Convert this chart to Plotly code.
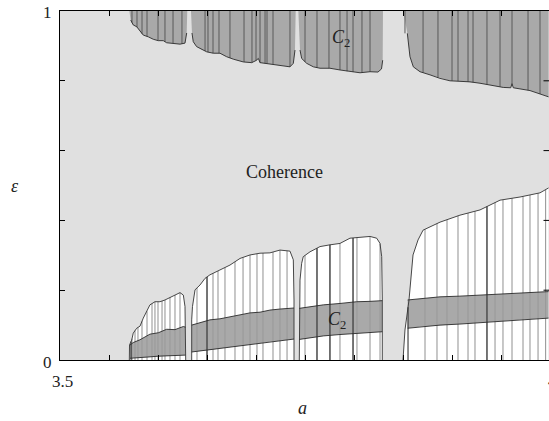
import numpy as np
import plotly.graph_objects as go

# ---------------- data ----------------
# Upper C2 region: lower edge of each piece hanging down from eps = 1
c2_up1_a = [3.5706, 3.5720, 3.5746, 3.5781, 3.5815, 3.5848, 3.5899, 3.5950, 3.6001, 3.6052, 3.6086, 3.6154, 3.6222, 3.6273, 3.6290, 3.6296]
c2_up1_e = [1.000, 0.974, 0.960, 0.955, 0.941, 0.931, 0.926, 0.919, 0.915, 0.915, 0.909, 0.908, 0.905, 0.908, 0.937, 1.000]
c2_up2_a = [3.6334, 3.6344, 3.6357, 3.6391, 3.6443, 3.6494, 3.6561, 3.6629, 3.6697, 3.6765, 3.6867, 3.6952, 3.6996, 3.7020, 3.7037, 3.7138, 3.7240, 3.7342, 3.7376, 3.7393, 3.7400]
c2_up2_e = [1.000, 0.937, 0.912, 0.898, 0.890, 0.883, 0.879, 0.879, 0.869, 0.862, 0.854, 0.852, 0.858, 0.864, 0.852, 0.848, 0.845, 0.840, 0.850, 0.888, 1.000]
c2_up3_a = [3.7427, 3.7444, 3.7461, 3.7512, 3.7580, 3.7648, 3.7749, 3.7851, 3.7953, 3.8055, 3.8157, 3.8238, 3.8274, 3.8286, 3.8289]
c2_up3_e = [1.000, 0.888, 0.864, 0.850, 0.840, 0.836, 0.836, 0.831, 0.826, 0.823, 0.826, 0.825, 0.834, 0.859, 1.000]
c2_up4_a = [3.8496, 3.8537, 3.8564, 3.8598, 3.8666, 3.8768, 3.8870, 3.8971, 3.9073, 3.9175, 3.9277, 3.9379, 3.9514, 3.9590, 3.9603, 3.9616, 3.9650, 3.9786, 3.9975, 3.9975]
c2_up4_e = [1.000, 0.936, 0.869, 0.840, 0.826, 0.817, 0.807, 0.800, 0.799, 0.797, 0.793, 0.788, 0.781, 0.780, 0.792, 0.780, 0.778, 0.772, 0.754, 1.000]

# Non-coherent (white) lobes rising from eps = 0
lobe1_a = [3.5706, 3.5708, 3.5730, 3.5746, 3.5781, 3.5815, 3.5848, 3.5883, 3.5916, 3.5967, 3.6018, 3.6069, 3.6120, 3.6171, 3.6222, 3.6256, 3.6273, 3.6280]
lobe1_e = [0.000, 0.043, 0.057, 0.077, 0.091, 0.097, 0.120, 0.138, 0.158, 0.167, 0.167, 0.172, 0.180, 0.186, 0.193, 0.186, 0.153, 0.000]
lobe2_a = [3.6341, 3.6341, 3.6349, 3.6375, 3.6426, 3.6477, 3.6527, 3.6629, 3.6731, 3.6833, 3.6935, 3.7037, 3.7138, 3.7240, 3.7342, 3.7376, 3.7383, 3.7383]
lobe2_e = [0.000, 0.115, 0.153, 0.201, 0.215, 0.234, 0.244, 0.258, 0.272, 0.291, 0.301, 0.306, 0.307, 0.315, 0.312, 0.287, 0.172, 0.000]
lobe3_a = [3.7437, 3.7437, 3.7444, 3.7461, 3.7477, 3.7546, 3.7648, 3.7749, 3.7851, 3.7953, 3.8055, 3.8157, 3.8225, 3.8259, 3.8276, 3.8282, 3.8282]
lobe3_e = [0.000, 0.115, 0.229, 0.277, 0.296, 0.310, 0.325, 0.330, 0.334, 0.349, 0.352, 0.354, 0.349, 0.334, 0.296, 0.172, 0.000]
lobe4_a = [3.8493, 3.8513, 3.8554, 3.8595, 3.8646, 3.8697, 3.8870, 3.9073, 3.9277, 3.9481, 3.9684, 3.9888, 3.9975, 3.9975]
lobe4_e = [0.000, 0.086, 0.172, 0.301, 0.344, 0.372, 0.395, 0.415, 0.430, 0.458, 0.467, 0.479, 0.493, 0.000]

# Lower C2 bands inside the lobes
band1_a = [3.5713, 3.5746, 3.5815, 3.5916, 3.6001, 3.6086, 3.6171, 3.6256, 3.6278]
band1_hi = [0.043, 0.050, 0.058, 0.074, 0.078, 0.088, 0.087, 0.096, 0.094]
band1_lo = [0.005, 0.006, 0.008, 0.009, 0.011, 0.012, 0.013, 0.014, 0.014]
band2_a = [3.6341, 3.6426, 3.6527, 3.6629, 3.6731, 3.6833, 3.6935, 3.7037, 3.7138, 3.7240, 3.7342, 3.7383]
band2_hi = [0.100, 0.106, 0.115, 0.118, 0.123, 0.130, 0.135, 0.137, 0.143, 0.146, 0.149, 0.149]
band2_lo = [0.023, 0.026, 0.029, 0.033, 0.037, 0.040, 0.043, 0.048, 0.052, 0.055, 0.058, 0.060]
band3_a = [3.7437, 3.7546, 3.7682, 3.7851, 3.8021, 3.8157, 3.8282]
band3_hi = [0.148, 0.152, 0.158, 0.162, 0.167, 0.168, 0.170]
band3_lo = [0.059, 0.064, 0.069, 0.073, 0.077, 0.079, 0.081]
band4_a = [3.8540, 3.8666, 3.8870, 3.9073, 3.9277, 3.9481, 3.9684, 3.9888, 3.9975]
band4_hi = [0.172, 0.176, 0.181, 0.183, 0.186, 0.188, 0.191, 0.194, 0.196]
band4_lo = [0.091, 0.095, 0.100, 0.103, 0.107, 0.111, 0.115, 0.118, 0.120]

# Periodic windows (vertical streaks)
windows_low = [3.5733, 3.5764, 3.5794, 3.5835, 3.5886, 3.5937, 3.5967, 3.5998, 3.6039, 3.6069, 3.6120, 3.6171, 3.6222,
               3.6395, 3.6497, 3.6558, 3.6609, 3.6680, 3.6782, 3.6864, 3.6935, 3.7006, 3.7067, 3.7169, 3.7240, 3.7312,
               3.7495, 3.7617, 3.7749, 3.7851, 3.7984, 3.8024, 3.8157, 3.8259,
               3.8717, 3.8839, 3.8941, 3.9053, 3.9155, 3.9226, 3.9348, 3.9430, 3.9511, 3.9603, 3.9715, 3.9786, 3.9868, 3.9945]
windows_low_dark = [3.5724, 3.6497, 3.7617, 3.7749, 3.7984, 3.8544, 3.9348]
windows_up = [3.5733, 3.5784, 3.5835, 3.5886, 3.5998, 3.6069, 3.6151, 3.6242,
              3.6477, 3.6507, 3.6558, 3.6619, 3.6731, 3.6874, 3.6955, 3.6996, 3.7037, 3.7088, 3.7108, 3.7169, 3.7342,
              3.7495, 3.7617, 3.7739, 3.7851, 3.7923, 3.7984, 3.8075, 3.8157,
              3.8513, 3.8697, 3.8849, 3.8992, 3.9053, 3.9155, 3.9206, 3.9348, 3.9481, 3.9603, 3.9766, 3.9888]

x_ticks = [3.55, 3.60, 3.65, 3.70, 3.75, 3.80, 3.85, 3.90, 3.95]
y_ticks = [0.2, 0.4, 0.6, 0.8]

# ---------------- styling ----------------
BG = "#e0e0e0"
DARK = "#a9a9a9"
EDGE = "#2a2a2a"
FONT = "Liberation Serif"

upper = [(c2_up1_a, c2_up1_e), (c2_up2_a, c2_up2_e), (c2_up3_a, c2_up3_e), (c2_up4_a, c2_up4_e)]
lobes = [(lobe1_a, lobe1_e), (lobe2_a, lobe2_e), (lobe3_a, lobe3_e), (lobe4_a, lobe4_e)]
bands = [(band1_a, band1_hi, band1_lo), (band2_a, band2_hi, band2_lo),
         (band3_a, band3_hi, band3_lo), (band4_a, band4_hi, band4_lo)]

W, H = 549, 421
L, R, T, B = 60, 0, 11, 61
x_end = 3.5 + 0.5 * (W - R - L) / 491.0   # the frame runs slightly past the window edge

fig = go.Figure()


def poly(x, y, fill):
    fig.add_trace(go.Scatter(x=x, y=y, mode="lines", fill="toself", fillcolor=fill,
                             line=dict(width=0, color=fill), hoverinfo="skip", showlegend=False))


def outline(x, y, width=0.9, color=EDGE):
    fig.add_trace(go.Scatter(x=x, y=y, mode="lines", line=dict(width=width, color=color),
                             hoverinfo="skip", showlegend=False))


def edge_at(a, pieces):
    for xs, ys in pieces:
        if xs[0] < a < xs[-1]:
            return float(np.interp(a, xs[1:-1], ys[1:-1]))
    return None


def streaks(positions, pieces, base, width, color):
    sx, sy = [], []
    for a in positions:
        e = edge_at(a, pieces)
        if e is not None:
            sx += [a, a, None]
            sy += [base, e, None]
    fig.add_trace(go.Scatter(x=sx, y=sy, mode="lines", line=dict(width=width, color=color),
                             hoverinfo="skip", showlegend=False))


# upper C2 pieces with their streaks
for xs, ys in upper:
    poly(xs, ys, DARK)
streaks(windows_up, upper, 1.0, 1, "#5a5a5a")
for xs, ys in upper:
    outline(xs[1:-1], ys[1:-1])

# white lobes, bands and their streaks
for xs, ys in lobes:
    poly(xs, ys, "white")
for xs, hi, lo in bands:
    poly(list(xs) + list(xs)[::-1], list(hi) + list(lo)[::-1], DARK)
streaks(windows_low, lobes, 0.0, 1.1, "#9a9a9a")
streaks(windows_low_dark, lobes, 0.0, 1.1, "#333333")

for xs, ys in lobes[:3]:
    outline(xs, ys, width=0.9, color="#333333")
outline(lobe4_a[:-1], lobe4_e[:-1], width=0.9, color="#333333")
for xs, hi, lo in bands:
    outline(xs, hi, width=0.9)
    outline(xs, lo, width=0.9)

# right-hand inner ticks
rx, ry = [], []
tick_w = 0.5 * 5.5 / 491.0
for t in y_ticks:
    rx += [x_end - tick_w, x_end, None]
    ry += [t, t, None]
fig.add_trace(go.Scatter(x=rx, y=ry, mode="lines", line=dict(width=1, color="black"),
                         hoverinfo="skip", showlegend=False))

# ---------------- layout ----------------
fig.update_layout(
    width=W, height=H,
    margin=dict(l=L, r=R, t=T, b=B, pad=0),
    paper_bgcolor="white", plot_bgcolor=BG,
    font=dict(family=FONT, size=17, color="#222"),
    showlegend=False,
    xaxis=dict(range=[3.5, x_end], showgrid=False, zeroline=False, showline=True, linecolor="black",
               linewidth=1.4, mirror="ticks", ticks="inside", ticklen=5, tickwidth=1, tickcolor="black",
               tickvals=x_ticks, showticklabels=False),
    yaxis=dict(range=[0, 1], showgrid=False, zeroline=False, showline=True, linecolor="black",
               linewidth=1.4, mirror=False, ticks="inside", ticklen=5, tickwidth=1, tickcolor="black",
               tickvals=y_ticks, showticklabels=False),
)


def px_x(p):
    return (p - L) / (W - R - L)


def px_y(p):
    return (H - B - p) / (H - B - T)


def label(text, x, y, size=17):
    fig.add_annotation(x=px_x(x), y=px_y(y), xref="paper", yref="paper", text=text, showarrow=False,
                       font=dict(family=FONT, size=size, color="#222"), xanchor="center", yanchor="middle")


label("1", 47, 13)
label("0", 47, 362)
label("3.5", 62, 381)
label("4", 552, 381)
label("<i>ε</i>", 15, 186, size=18)
label("<i>a</i>", 302, 408, size=18)
label("Coherence", 284, 172, size=18)
label("<i>C</i><sub>2</sub>", 341, 39, size=18)
label("<i>C</i><sub>2</sub>", 337, 320, size=18)

fig.write_html("out.html")
